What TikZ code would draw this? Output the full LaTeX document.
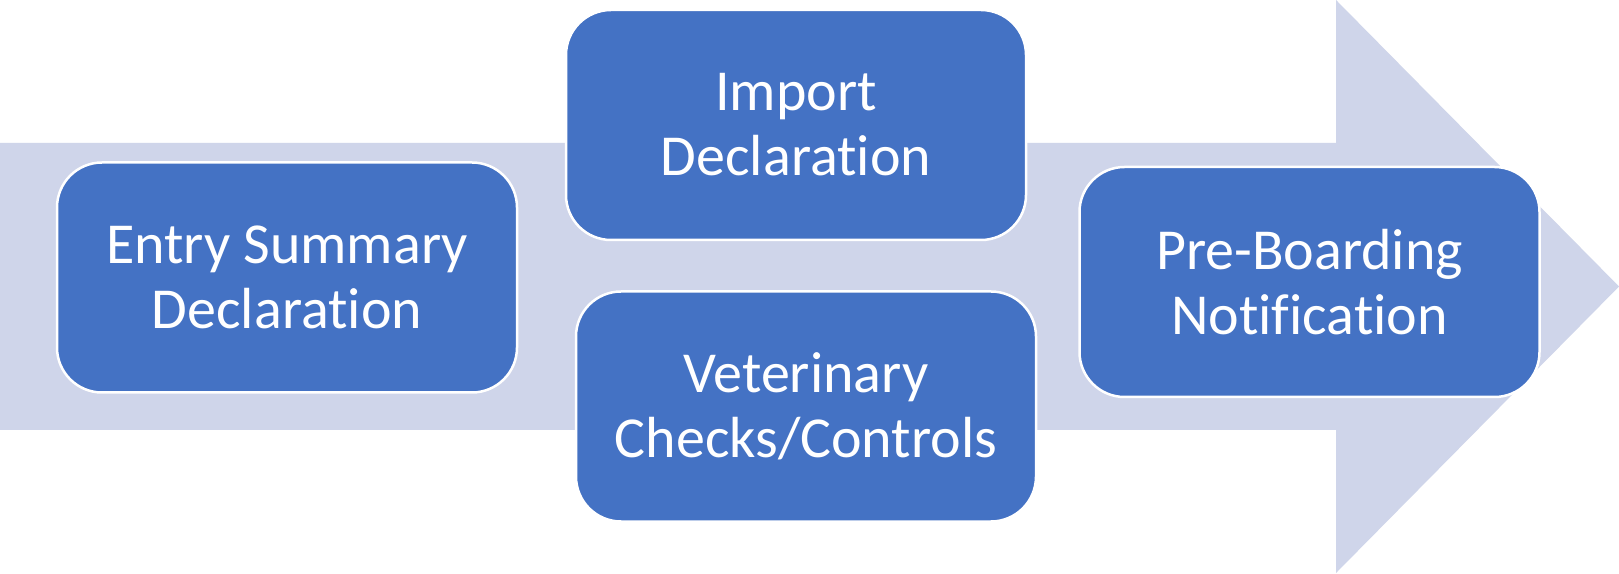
\documentclass[tikz,border=0pt]{standalone}
\usepackage{fontspec}
\setmainfont[Ligatures=NoCommon]{Carlito}
\definecolor{bandc}{HTML}{CFD5EA}
\definecolor{boxc}{HTML}{4472C4}
\tikzset{
  procbox/.style={draw=white, line width=2.5pt, fill=boxc, rounded corners=45pt,
    minimum width=460pt, minimum height=230pt, text=white, align=center,
    inner sep=0pt, font=\fontsize{58}{65}\selectfont},
  band/.style={fill=bandc, draw=none}
}
\begin{document}
\begin{tikzpicture}[x=1pt,y=1pt]
\useasboundingbox (0,0) rectangle (1619,573);
\fill[white] (0,0) rectangle (1619,573);
\path[band] (0,143) -- (1336,143) -- (1336,0) -- (1619,286.5) -- (1336,573) -- (1336,430) -- (0,430) -- cycle;
\node[procbox] (esd) at (287,295.5) {Entry Summary\\Declaration};
\node[procbox] (imp) at (796,448) {Import\\Declaration};
\node[procbox] (vet) at (806,166.5) {Veterinary\\Checks/Controls};
\node[procbox] (pbn) at (1309.5,291) {Pre-Boarding\\Notification};
\end{tikzpicture}
\end{document}
